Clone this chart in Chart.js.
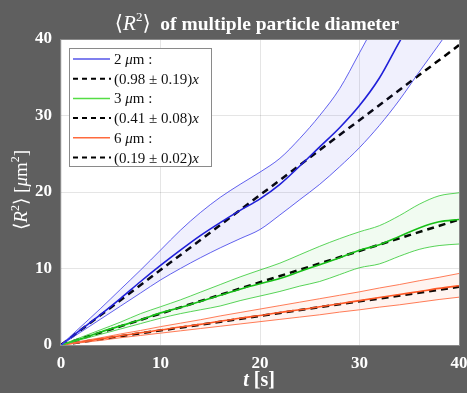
<!DOCTYPE html>
<html>
<head>
<meta charset="utf-8">
<script src="https://cdn.jsdelivr.net/npm/chart.js@4.4.1/dist/chart.umd.min.js"></script>
<style>
  html, body { margin: 0; padding: 0; background: #5f5f5f; }
  canvas { display: block; }
</style>
</head>
<body>
<canvas id="msd" width="467" height="393"></canvas>
<script>
// time samples [s]
const times = [0, 2, 4, 6, 8, 10, 12, 14, 16, 18, 20, 22, 24, 26, 28, 30, 32, 34, 36, 38, 40];

// 2 um particles: mean and +/- band
const mean2 = [0, 2.0, 4.0, 6.1, 8.3, 10.4, 12.4, 14.3, 16.0, 17.6, 19.1, 21.0, 23.4, 25.9, 28.4, 31.3, 34.9, 39.6, 44.0, 49.0, 53.0];
const upper2 = [0, 2.4, 4.8, 7.3, 9.8, 12.4, 15.0, 17.3, 19.3, 21.0, 22.6, 24.4, 27.0, 30.0, 33.5, 38.2, 43.0, 48.0, 53.0, 58.0, 63.0];
const lower2 = [0, 1.7, 3.4, 5.1, 6.8, 8.5, 10.0, 11.4, 12.7, 13.9, 15.1, 17.0, 19.0, 21.0, 23.3, 25.8, 28.7, 32.0, 35.7, 39.3, 43.0];

// 3 um particles
const mean3 = [0, 0.8, 1.7, 2.5, 3.3, 4.2, 4.9, 5.7, 6.5, 7.3, 8.0, 8.7, 9.6, 10.5, 11.4, 12.4, 13.1, 14.2, 15.3, 16.1, 16.4];
const upper3 = [0, 1.0, 2.0, 3.0, 4.1, 5.0, 5.9, 6.9, 7.9, 8.9, 9.8, 10.7, 11.8, 12.9, 13.9, 14.8, 15.6, 16.9, 18.4, 19.5, 19.9];
const lower3 = [0, 0.7, 1.4, 2.1, 2.8, 3.5, 4.1, 4.6, 5.1, 5.8, 6.4, 7.0, 7.7, 8.3, 9.2, 10.1, 10.6, 11.6, 12.5, 13.0, 13.2];

// 6 um particles
const mean6 = [0, 0.4, 0.8, 1.2, 1.6, 1.95, 2.35, 2.7, 3.1, 3.5, 3.85, 4.25, 4.6, 5.0, 5.4, 5.8, 6.2, 6.6, 7.0, 7.4, 7.75];
const upper6 = [0, 0.5, 0.95, 1.45, 1.9, 2.4, 2.85, 3.3, 3.8, 4.25, 4.7, 5.15, 5.6, 6.05, 6.5, 6.95, 7.45, 7.9, 8.4, 8.85, 9.35];
const lower6 = [0, 0.3, 0.6, 0.95, 1.25, 1.55, 1.85, 2.15, 2.45, 2.75, 3.05, 3.35, 3.65, 3.95, 4.3, 4.6, 4.95, 5.25, 5.6, 5.95, 6.25];

// linear fits  <R^2> = (a +/- da) t
const diameters = ['2', '3', '6'];
const slopes = [0.98, 0.41, 0.19];
const slopeErrs = [0.19, 0.08, 0.02];

const xTicks = [0, 10, 20, 30, 40];
const yTicks = [0, 10, 20, 30, 40];

const colors = [
  { line: '#1a1ad8', edge: 'rgba(70,70,235,0.85)', fill: 'rgba(90,90,230,0.09)', key: '#5555e8' },
  { line: '#14c014', edge: 'rgba(60,205,60,0.85)', fill: 'rgba(60,200,60,0.07)', key: '#55dd44' },
  { line: '#ff5522', edge: 'rgba(255,110,70,0.9)', fill: 'rgba(255,110,60,0.08)', key: '#ff6a3d' }
];

const pts = arr => arr.map((v, i) => ({ x: times[i], y: v }));

let datasets = [];
[[mean2, upper2, lower2], [mean3, upper3, lower3], [mean6, upper6, lower6]].forEach((s, k) => {
  let c = colors[k];
  let common = { pointRadius: 0, cubicInterpolationMode: 'monotone', clip: 0 };
  datasets.push({ ...common, data: pts(s[1]), borderColor: c.edge, borderWidth: 1, backgroundColor: c.fill, fill: '+1' });
  datasets.push({ ...common, data: pts(s[2]), borderColor: c.edge, borderWidth: 1, fill: false });
  datasets.push({ ...common, data: pts(s[0]), borderColor: c.line, borderWidth: 1.6, fill: false });
});
slopes.forEach(a => {
  datasets.push({ data: [{ x: 0, y: 0 }, { x: 40, y: a * 40 }], borderColor: '#000', borderWidth: 2.5, borderDash: [7, 5], fill: false, pointRadius: 0, clip: 0 });
});

// draw text made of pieces: [text, font, dy]
function rich(ctx, x, y, parts) {
  parts.forEach(p => {
    ctx.font = p[1];
    ctx.fillText(p[0], x, y + (p[2] || 0));
    x += ctx.measureText(p[0]).width;
  });
  return x;
}
function richWidth(ctx, parts) {
  let w = 0;
  parts.forEach(p => { ctx.font = p[1]; w += ctx.measureText(p[0]).width; });
  return w;
}

const SERIF = '"Liberation Serif", "DejaVu Serif", serif';

const decor = {
  id: 'decor',
  beforeDraw(chart) {
    const { ctx, chartArea: a } = chart;
    ctx.save();
    ctx.fillStyle = '#5f5f5f';
    ctx.fillRect(0, 0, chart.width, chart.height);
    ctx.fillStyle = '#ffffff';
    ctx.fillRect(a.left, a.top, a.right - a.left, a.bottom - a.top);
    ctx.restore();
  },
  afterDatasetsDraw(chart) {
    const { ctx, chartArea: a } = chart;
    ctx.save();
    ctx.strokeStyle = '#8a8a8a';
    ctx.lineWidth = 1;
    ctx.strokeRect(Math.round(a.left) - 0.5, Math.round(a.top) + 0.5, Math.round(a.right - a.left) + 1, Math.round(a.bottom - a.top));

    // legend
    const lx = 69.5, ly = 48.5, lw = 142, lh = 118;
    ctx.fillStyle = '#fff';
    ctx.fillRect(lx, ly, lw, lh);
    ctx.strokeStyle = '#8a8a8a';
    ctx.strokeRect(lx, ly, lw, lh);
    const f = '15px ' + SERIF, fi = 'italic 15px ' + SERIF;
    ctx.fillStyle = '#111';
    ctx.textBaseline = 'alphabetic';
    for (let k = 0; k < 3; k++) {
      let y1 = 59 + k * 39.4, y2 = y1 + 19.7;
      ctx.setLineDash([]);
      ctx.strokeStyle = colors[k].key;
      ctx.lineWidth = 1.5;
      ctx.beginPath(); ctx.moveTo(73, y1); ctx.lineTo(110, y1); ctx.stroke();
      ctx.setLineDash([5, 4]);
      ctx.strokeStyle = '#000';
      ctx.lineWidth = 2;
      ctx.beginPath(); ctx.moveTo(73, y2); ctx.lineTo(111, y2); ctx.stroke();
      ctx.setLineDash([]);
      rich(ctx, 114, y1 + 5, [[diameters[k] + ' ', f], ['\u03bc', fi], ['m :', f]]);
      rich(ctx, 114, y2 + 5, [['(' + slopes[k].toFixed(2) + ' \u00b1 ' + slopeErrs[k].toFixed(2) + ')', f], ['x', fi]]);
    }
    ctx.restore();
  },
  afterDraw(chart) {
    const { ctx } = chart;
    ctx.save();
    ctx.fillStyle = '#ffffff';
    ctx.textBaseline = 'alphabetic';

    // title
    const tparts = [['\u27e8', '21px ' + SERIF], ['R', 'italic 21px ' + SERIF], ['2', '13px ' + SERIF, -9], ['\u27e9', '21px ' + SERIF], ['  of multiple particle diameter', 'bold 19.5px ' + SERIF]];
    let tw = richWidth(ctx, tparts);
    rich(ctx, 257 - tw / 2, 30, tparts);

    // x label
    const xparts = [['t', 'bold italic 20px ' + SERIF], [' [s]', 'bold 20px ' + SERIF]];
    let xw = richWidth(ctx, xparts);
    rich(ctx, 259 - xw / 2, 386, xparts);

    // y label
    ctx.translate(27, 190);
    ctx.rotate(-Math.PI / 2);
    const yparts = [['\u27e8', '19px ' + SERIF], ['R', 'italic 19px ' + SERIF], ['2', '12px ' + SERIF, -8], ['\u27e9 [', '19px ' + SERIF], ['\u03bc', 'italic 19px ' + SERIF], ['m', '19px ' + SERIF], ['2', '12px ' + SERIF, -8], [']', '19px ' + SERIF]];
    let yw = richWidth(ctx, yparts);
    rich(ctx, -yw / 2, 0, yparts);
    ctx.restore();
  }
};

new Chart(document.getElementById('msd').getContext('2d'), {
  type: 'line',
  data: { datasets: datasets },
  options: {
    responsive: false,
    animation: false,
    layout: { padding: { left: 0, right: 8, top: 39, bottom: 0 } },
    plugins: { legend: { display: false }, tooltip: { enabled: false } },
    scales: {
      x: {
        type: 'linear', min: 0, max: 40,
        afterFit: s => { s.height = 48; s.paddingLeft = 0; s.paddingRight = 0; },
        afterBuildTicks: s => { s.ticks = xTicks.map(v => ({ value: v })); },
        grid: { color: 'rgba(0,0,0,0.1)', drawTicks: false },
        border: { display: false },
        ticks: { color: '#fff', padding: 8, maxRotation: 0, font: { family: SERIF, size: 17, weight: 'bold' } }
      },
      y: {
        type: 'linear', min: 0, max: 40,
        afterFit: s => { s.width = 61; s.paddingTop = 0; s.paddingBottom = 0; },
        afterBuildTicks: s => { s.ticks = yTicks.map(v => ({ value: v })); },
        grid: { color: 'rgba(0,0,0,0.1)', drawTicks: false },
        border: { display: false },
        ticks: { color: '#fff', padding: 9, font: { family: SERIF, size: 17, weight: 'bold' } }
      }
    }
  },
  plugins: [decor]
});
</script>
</body>
</html>
